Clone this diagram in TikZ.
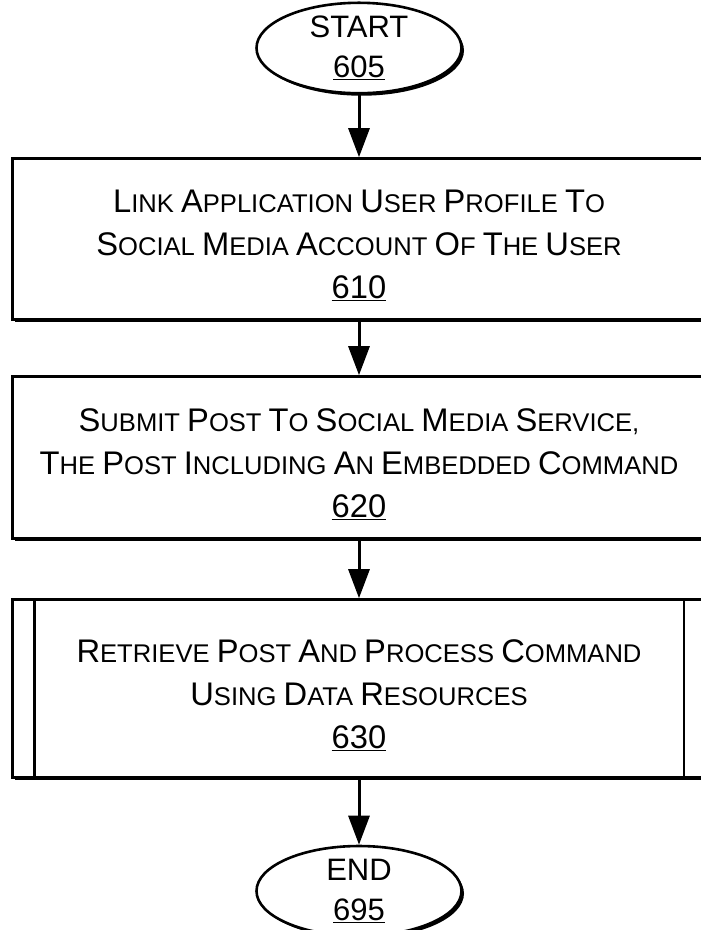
\documentclass[tikz,border=0pt]{standalone}
\usepackage{fontspec}
\setmainfont{Liberation Sans}
\usetikzlibrary{shapes.geometric,arrows.meta,shadows,calc}
\newcommand\bigf{\fontsize{32.7}{43}\selectfont}
\newcommand\smf{\fontsize{25.6}{43}\selectfont}
\def\Swx#1#2\swend{{\bigf #1}{\smf #2}}
\newcommand\Sw[1]{\Swx#1\swend}
\newcommand\Num[1]{\underline{\bigf #1}}
\newcommand\Lift{\rule{0pt}{35.5pt}}
\begin{document}
\begin{tikzpicture}[x=1pt,y=1pt,
  shad/.style={drop shadow={shadow xshift=2.5pt,shadow yshift=-2.5pt,fill=black,opacity=1}},
  box/.style={draw,line width=2.6pt,fill=white,rectangle,inner sep=0pt,align=center,font=\smf,minimum width=693pt,shad},
  term/.style={draw,line width=2.6pt,fill=white,ellipse,inner sep=0pt,align=center,font=\bigf,minimum width=205pt,minimum height=80pt,shad},
  flow/.style={line width=3pt,-{Triangle[width=21pt,length=29pt]}}]
\useasboundingbox (0,0) rectangle (701,-930);
\node[term,font=\fontsize{31}{40}\selectfont] (s) at (359,-48) {START\\\underline{605}};
\node[box,minimum height=161pt] (b1) at (359,-239) {\Lift\Sw{LINK} \Sw{APPLICATION} \Sw{USER} \Sw{PROFILE} \Sw{TO}\\\Sw{SOCIAL} \Sw{MEDIA} \Sw{ACCOUNT} \Sw{OF} \Sw{THE} \Sw{USER}\\\Num{610}};
\node[box,minimum height=162pt] (b2) at (359,-457.5) {\Lift\Sw{SUBMIT} \Sw{POST} \Sw{TO} \Sw{SOCIAL} \Sw{MEDIA} \Sw{SERVICE,}\\\Sw{THE} \Sw{POST} \Sw{INCLUDING} \Sw{AN} \Sw{EMBEDDED} \Sw{COMMAND}\\\Num{620}};
\node[box,minimum height=178pt] (b3) at (359,-688.5) {\Lift\Sw{RETRIEVE} \Sw{POST} \Sw{AND} \Sw{PROCESS} \Sw{COMMAND}\\\Sw{USING} \Sw{DATA} \Sw{RESOURCES}\\\Num{630}};
\draw[line width=2.6pt] ($(b3.north west)+(23,0)$) -- ($(b3.south west)+(23,0)$);
\draw[line width=2.6pt] ($(b3.north east)+(-23,0)$) -- ($(b3.south east)+(-23,0)$);
\node[term,font=\fontsize{31}{40}\selectfont] (e) at (359,-891) {END\\\underline{695}};
\draw[flow] (s.south) -- (b1.north);
\draw[flow] (b1.south) -- (b2.north);
\draw[flow] (b2.south) -- (b3.north);
\draw[flow] (b3.south) -- (e.north);
\end{tikzpicture}
\end{document}
